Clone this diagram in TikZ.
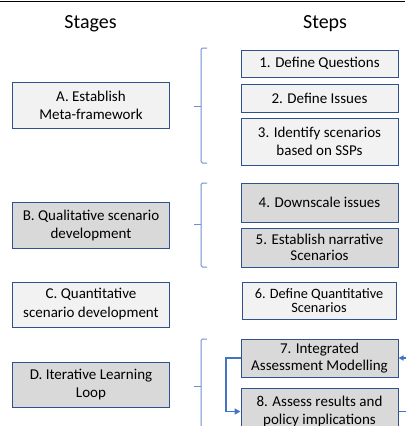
\documentclass[tikz,border=0pt]{standalone}
\usepackage{fontspec}
\setmainfont{Carlito}
\usetikzlibrary{arrows.meta}
\definecolor{bord}{HTML}{2F528F}
\definecolor{lightfill}{HTML}{F2F2F2}
\definecolor{darkfill}{HTML}{D9D9D9}
\definecolor{brace}{HTML}{6F8FCF}
\definecolor{loopc}{HTML}{4472C4}
\tikzset{
  box/.style={draw=bord, line width=1pt, align=center, inner sep=0pt,
    font=\fontsize{15}{18}\selectfont},
  lbox/.style={box, fill=lightfill},
  dbox/.style={box, fill=darkfill},
  stagebox/.style={minimum width=156.6pt},
  stepbox/.style={minimum width=157pt},
  title/.style={font=\fontsize{20}{24}\selectfont, inner sep=0pt},
  bracestyle/.style={draw=brace, line width=1pt, rounded corners=1.5pt},
  loopline/.style={draw=loopc, line width=1.8pt, -{Triangle[length=6pt,width=6pt]}},
}
\begin{document}
\begin{tikzpicture}[x=1pt,y=-1pt]
\useasboundingbox (0,0) rectangle (405,426);
\draw[black, line width=1pt] (0,1.5) -- (405,1.5);
\node[title] (tstages) at (90.5,24) {Stages};
\node[title] (tsteps) at (325,24) {Steps};
% stages
\node[lbox, stagebox, minimum height=46pt] (A) at (91,105.3) {A. Establish\\Meta-framework};
\node[dbox, stagebox, minimum height=46pt] (B) at (91,225) {B. Qualitative scenario\\development};
\node[lbox, stagebox, minimum height=45pt, font=\fontsize{15}{19}\selectfont] (C) at (91,304.5) {C. Quantitative\\scenario development};
\node[dbox, stagebox, minimum height=45pt, font=\fontsize{15}{17.5}\selectfont] (D) at (91,384.5) {D. Iterative Learning\\Loop};
% steps
\node[lbox, stepbox, minimum height=27pt] (s1) at (319.5,63.5) {1. Define Questions};
\node[lbox, stepbox, minimum height=28pt] (s2) at (319.5,98) {2. Define Issues};
\node[lbox, stepbox, minimum height=47pt] (s3) at (319.5,141.5) {3. Identify scenarios\\based on SSPs};
\node[dbox, stepbox, minimum height=39pt] (s4) at (319.5,202.5) {4. Downscale issues};
\node[dbox, stepbox, minimum height=39pt, font=\fontsize{15}{15.5}\selectfont] (s5) at (319.5,247.5) {5. Establish narrative\\Scenarios};
\node[lbox, minimum width=154pt, minimum height=37pt, font=\fontsize{14.3}{14.5}\selectfont] (s6) at (319,300.5) {6. Define Quantitative\\Scenarios};
\node[dbox, stepbox, minimum height=38pt, font=\fontsize{15}{16.5}\selectfont] (s7) at (319.5,358) {7. Integrated\\Assessment Modelling};
\node[dbox, stepbox, minimum height=47pt] (s8) at (319.5,411.5) {8. Assess results and\\policy implications};
% braces
\draw[bracestyle] (207,48) -- (201,48) -- (201,163) -- (207,163);
\draw[draw=brace, line width=1pt] (201,106) -- (194,106);
\draw[bracestyle] (207,183) -- (201,183) -- (201,267) -- (207,267);
\draw[draw=brace, line width=1pt] (201,224) -- (194,224);
\draw[bracestyle] (207,339) -- (201,339) -- (201,433) -- (207,433);
\draw[draw=brace, line width=1pt] (201,386) -- (194,386);
% loop
\draw[loopline] (s7.west) -- (226,358) -- (226,411.5) -- (s8.west);
\draw[draw=loopc, line width=1.4pt, -{Triangle[length=5pt,width=5pt]}] (s8.east) -- (414,411.5) -- (414,358) -- (s7.east);
\end{tikzpicture}
\end{document}
